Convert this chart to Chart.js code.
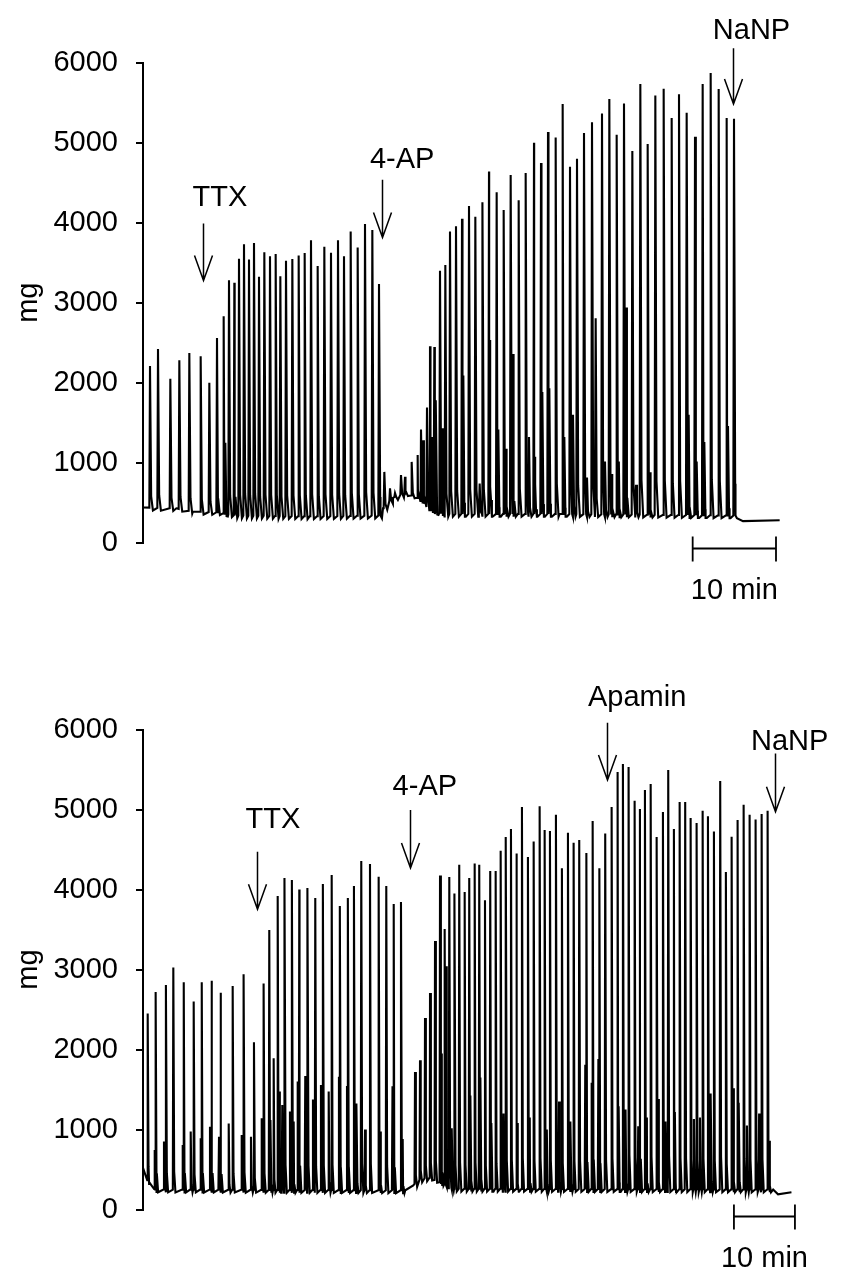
<!DOCTYPE html>
<html>
<head>
<meta charset="utf-8">
<script src="https://cdn.jsdelivr.net/npm/chart.js@4.4.1/dist/chart.umd.min.js"></script>
<style>
  html, body { margin: 0; padding: 0; background: #fff; }
  #wrap { position: relative; width: 845px; height: 1270px; }
  canvas { position: absolute; left: 0; }
  #topChart { top: 0; }
  #bottomChart { top: 635px; }
</style>
</head>
<body>
<div id="wrap">
  <canvas id="topChart" width="845" height="635"></canvas>
  <canvas id="bottomChart" width="845" height="635"></canvas>
</div>
<script>
// ---- data (time in min, force in mg) ----
const yTicks = [0, 1000, 2000, 3000, 4000, 5000, 6000];

// top recording
const topMainT = [0.84, 1.80, 3.28, 4.36, 5.56, 6.92, 7.96, 8.88, 9.68, 10.32, 10.96, 11.52, 12.12, 12.72, 13.32,
  13.92, 14.56, 15.24, 15.92, 16.48, 17.16, 17.92, 18.68, 19.40, 20.16, 20.96, 21.76, 22.56, 23.40, 24.12,
  24.92, 25.76, 26.64, 27.52, 28.32,
  28.96, 29.64, 30.24, 30.96, 31.44, 32.24, 32.96, 33.36, 33.64, 34.08, 34.44, 34.96, 35.64, 36.28, 36.84,
  37.56, 38.28, 39.12, 39.88, 40.76, 41.52, 42.44, 43.28, 44.12, 45.08, 45.92, 46.92, 47.76, 48.60, 49.52,
  50.36, 51.24, 52.08, 52.92, 53.88, 55.08, 55.96, 56.84, 57.72, 58.72, 59.68, 60.56, 61.48, 62.48, 63.44,
  64.32, 65.24, 66.24, 67.16, 68.12, 69.08, 70.04, 70.92];
const topMainMg = [2210, 2420, 2050, 2280, 2370, 2330, 2000, 2560, 2830, 3280, 3250, 3550, 3730, 3540, 3745,
  3325, 3630, 3580, 3610, 3330, 3525, 3545, 3590, 3620, 3780, 3460, 3700, 3625, 3780, 3580,
  3890, 3690, 3985, 3910, 3235,
  885, 680, 620, 845, 825, 1010, 1095, 1415, 1280, 1690, 2455, 2445, 3400, 3470, 3890,
  3955, 4050, 4210, 4075, 4255, 4640, 4380, 4160, 4595, 4280, 4620, 5000, 4745, 5135, 5065,
  5485, 4700, 4800, 5120, 5255, 5365, 5545, 5100, 5490, 4895, 5735, 4985, 5590, 5675, 5310,
  5605, 5375, 5075, 5735, 5870, 5670, 5310, 5300];
const topSecT = [9.88, 34.72, 35.16, 35.88, 38.44, 40.40, 41.64, 42.64, 43.56, 44.44, 46.32, 47.04, 47.92, 48.76,
  50.56, 51.60, 53.28, 54.32, 55.44, 56.28, 57.10, 58.00, 59.16, 60.84, 65.48, 66.44, 67.36, 70.20];
const topSecMg = [1250, 1320, 1780, 1430, 2090, 740, 2535, 1415, 1175, 2360, 1320, 1075, 1885, 1930,
  1320, 1600, 815, 2805, 1015, 860, 1015, 2940, 725, 880, 1600, 1015, 1260, 1460];
const topBaseT = [0, 4, 6, 9, 11, 20, 28.5, 28.8, 30.0, 31.5, 33.0, 34.5, 36.0, 50, 71.1, 72.0, 76.4];
const topBaseMg = [440, 430, 390, 380, 340, 330, 340, 430, 560, 620, 560, 400, 360, 360, 340, 270, 280];
const topDrugs = ['TTX', '4-AP', 'NaNP'];
const topDrugT = [7.16, 28.64, 70.84];

// bottom recording
const botMainT = [0.77, 2.13, 3.77, 4.97, 6.72, 8.31, 9.67, 11.26, 12.74, 14.70, 16.50, 18.19, 19.78,
  20.70, 22.08, 23.23, 24.42, 25.62, 26.99, 28.24, 29.50, 30.93, 32.29, 33.60, 34.58, 35.78, 37.21, 38.63,
  39.88, 41.14, 42.29,
  44.59, 45.41, 46.23, 47.05, 47.87, 48.69, 49.45, 50.21, 51.09, 51.84, 52.73, 53.48, 54.37, 55.12, 56.06,
  56.92, 57.81, 58.63, 59.50, 60.32, 61.25, 62.12, 63.10, 64.04, 65.02, 65.84, 66.71, 67.69, 68.67, 69.66,
  70.59, 71.51,
  72.72, 73.75, 74.85, 75.77, 76.82, 77.80, 78.67, 79.60, 80.59, 81.46, 82.28, 83.22, 84.20, 85.23, 86.10,
  87.03, 87.97, 88.88, 89.77, 90.75, 91.74, 92.61, 93.59, 94.62, 95.55, 96.49, 97.47, 98.46, 99.44, 100.42,
  101.41, 102.39];
const botMainMg = [2450, 2720, 2805, 3025, 2840, 2600, 2840, 2860, 2710, 2795, 2940, 2090, 2825,
  3495, 3920, 4145, 4120, 4000, 4020, 3895, 4070, 4180, 3795, 3895, 4045, 4355, 4320, 4160,
  4045, 3820, 3845,
  1720, 1865, 2395, 2705, 3355, 4175, 3505, 4155, 3950, 4310, 3970, 4145, 4325, 4310, 3865,
  4230, 4230, 4485, 4655, 4755, 4450, 5030, 4405, 4600, 5040, 4745, 4730, 4935, 4265, 4710,
  4585, 4620,
  4455, 4855, 4265, 4700, 5030, 5470, 5570, 5530, 5110, 5005, 5245, 5320, 4655, 4970, 5495,
  4755, 5095, 5095, 4895, 4830, 4985, 4915, 4725, 5355, 4220, 4660, 4870, 5060, 4935, 4875,
  4945, 4985];
const botSecT = [1.92, 3.44, 6.51, 7.82, 9.46, 10.98, 12.46, 14.05, 16.18, 17.70, 19.46, 20.93, 21.42, 22.34,
  22.83, 24.09, 24.70, 25.36, 26.60, 27.86, 29.17, 30.44, 32.12, 33.44, 35.03, 36.40, 38.90, 40.90, 42.57,
  48.96, 49.78, 50.65, 53.71, 55.35, 57.15, 59.10, 61.35, 63.40, 66.20, 68.20, 70.10, 72.50, 73.55, 74.65,
  78.00, 79.10, 81.18, 82.60, 84.45, 85.70, 87.20, 90.31, 91.30, 93.10, 96.75, 97.70, 99.00, 101.00, 102.65];
const botSecMg = [745, 850, 805, 975, 890, 1035, 910, 1075, 930, 910, 1140, 1120, 1890, 1475,
  1305, 1225, 1100, 1600, 1670, 1375, 1555, 1475, 1660, 1545, 1325, 1000, 975, 1540, 880,
  1950, 3040, 1015, 1425, 1650, 1080, 1200, 1080, 1150, 1000, 1350, 1100, 1810, 1585, 1880,
  1290, 1250, 1040, 1150, 1380, 1100, 1220, 1130, 1150, 1450, 1515, 1335, 1050, 1200, 860];
const botBaseT = [0, 1.0, 2.0, 43.0, 44.3, 45.5, 47.0, 49.0, 51.0, 103.3, 104.1, 106.3];
const botBaseMg = [520, 320, 250, 240, 300, 380, 400, 330, 260, 250, 190, 215];
const botDrugs = ['TTX', '4-AP', 'Apamin', 'NaNP'];
const botDrugT = [18.73, 43.76, 76.0, 103.6];

// ---- building the trace ----
function baseAt(bt, bv, t) {
  if (t <= bt[0]) return bv[0];
  for (let i = 1; i < bt.length; i++) {
    if (t <= bt[i]) {
      const f = (t - bt[i - 1]) / (bt[i] - bt[i - 1]);
      return bv[i - 1] + f * (bv[i] - bv[i - 1]);
    }
  }
  return bv[bv.length - 1];
}

function buildTrace(mainT, mainMg, secT, secMg, baseT, baseMg) {
  const pts = baseT.map((t, i) => ({ x: t, y: baseMg[i] }));
  const addPeak = (t, h, rise, fall) => {
    const b = baseAt(baseT, baseMg, t);
    pts.push({ x: t - rise, y: b });
    pts.push({ x: t, y: h });
    pts.push({ x: t + fall * 0.4, y: b + (h - b) * 0.08 });
    pts.push({ x: t + fall, y: b - 35 });
  };
  mainT.forEach((t, i) => addPeak(t, mainMg[i], 0.08, 0.35));
  secT.forEach((t, i) => addPeak(t, secMg[i], 0.1, 0.3));
  pts.sort((a, b) => a.x - b.x);
  return pts;
}

const marksPlugin = {
  id: 'marks',
  afterDraw(chart, args, opts) {
    const ctx = chart.ctx;
    const xs = chart.scales.x;
    const ys = chart.scales.y;
    ctx.save();
    ctx.strokeStyle = '#000';
    ctx.fillStyle = '#000';
    ctx.font = '29px "Liberation Sans", Arial, sans-serif';
    ctx.textAlign = 'center';
    ctx.textBaseline = 'alphabetic';
    ctx.lineWidth = 1.5;
    opts.labels.forEach((label, i) => {
      const g = opts.arrows[i];
      const x = Math.round(xs.getPixelForValue(opts.times[i])) + 0.5;
      const y0 = ys.getPixelForValue(g.from);
      const y1 = ys.getPixelForValue(g.to);
      ctx.beginPath();
      ctx.moveTo(x, y0);
      ctx.lineTo(x, y1);
      ctx.moveTo(x - 9, y1 - 25);
      ctx.lineTo(x, y1);
      ctx.lineTo(x + 9, y1 - 25);
      ctx.stroke();
      ctx.fillText(label, xs.getPixelForValue(g.textT), ys.getPixelForValue(g.textMg));
    });
    // 10 min scale bar
    const sb = opts.bar;
    const xa = xs.getPixelForValue(sb.t0);
    const xb = xs.getPixelForValue(sb.t0 + 10);
    const yb = Math.round(ys.getPixelForValue(sb.mg)) + 0.5;
    ctx.lineWidth = 1.8;
    ctx.beginPath();
    ctx.moveTo(xa, yb); ctx.lineTo(xb, yb);
    ctx.moveTo(xa, yb - 12); ctx.lineTo(xa, yb + 13);
    ctx.moveTo(xb, yb - 12); ctx.lineTo(xb, yb + 13);
    ctx.stroke();
    ctx.fillText('10 min', (xa + xb) / 2, yb + 50);
    ctx.restore();
  }
};

function makeChart(id, pts, xMax, pad, marks) {
  return new Chart(document.getElementById(id), {
    type: 'line',
    data: {
      datasets: [{
        data: pts,
        borderColor: '#000',
        borderWidth: 2.1,
        borderJoinStyle: 'miter',
        pointRadius: 0,
        tension: 0,
        fill: false
      }]
    },
    options: {
      responsive: false,
      animation: false,
      events: [],
      layout: { padding: pad },
      plugins: {
        legend: { display: false },
        tooltip: { enabled: false },
        marks: marks
      },
      scales: {
        x: { type: 'linear', display: false, min: 0, max: xMax },
        y: {
          min: 0,
          max: 6000,
          afterFit(s) { s.width = 143; },
          afterBuildTicks(s) { s.ticks = yTicks.map(v => ({ value: v })); },
          ticks: {
            color: '#000',
            padding: 18,
            callback: v => String(v),
            font: { family: '"Liberation Sans", Arial, sans-serif', size: 29 }
          },
          grid: { drawOnChartArea: false, tickLength: 7, color: '#000', lineWidth: 2 },
          border: { display: true, color: '#000', width: 2 },
          title: {
            display: true,
            text: 'mg',
            color: '#000',
            padding: { top: 12, bottom: 0 },
            font: { family: '"Liberation Sans", Arial, sans-serif', size: 29 }
          }
        }
      }
    },
    plugins: [marksPlugin]
  });
}

makeChart('topChart',
  buildTrace(topMainT, topMainMg, topSecT, topSecMg, topBaseT, topBaseMg),
  78.84,
  { top: 62.7, bottom: 92.3, left: 0, right: 45 },
  {
    labels: topDrugs,
    times: topDrugT,
    arrows: [
      { from: 3990, to: 3276, textT: 9.24, textMg: 4210 },
      { from: 4538, to: 3815, textT: 31.1, textMg: 4685 },
      { from: 6181, to: 5483, textT: 73.02, textMg: 6294 }
    ],
    bar: { t0: 65.96, mg: -62 }
  });

makeChart('bottomChart',
  buildTrace(botMainT, botMainMg, botSecT, botSecMg, botBaseT, botBaseMg),
  107.7,
  { top: 94.5, bottom: 60.5, left: 0, right: 45 },
  {
    labels: botDrugs,
    times: botDrugT,
    arrows: [
      { from: 4473, to: 3753, textT: 21.3, textMg: 4769 },
      { from: 4994, to: 4269, textT: 46.2, textMg: 5181 },
      { from: 6085, to: 5369, textT: 81.0, textMg: 6294 },
      { from: 5699, to: 4971, textT: 106.0, textMg: 5744 }
    ],
    bar: { t0: 96.87, mg: -78 }
  });
</script>
</body>
</html>
